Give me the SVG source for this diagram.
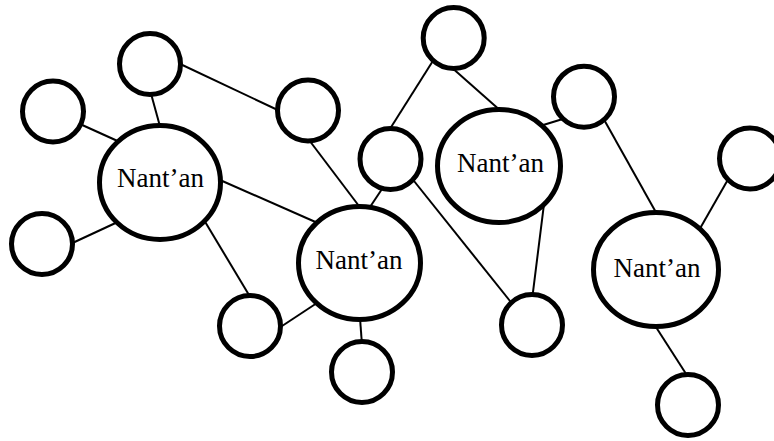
<svg xmlns="http://www.w3.org/2000/svg" width="774" height="441" viewBox="0 0 774 441">
  <style>
    .node { fill: #ffffff; stroke: #000000; stroke-width: 5; }
    .edge { stroke: #000000; stroke-width: 2; fill: none; }
    .label { font-family: "Liberation Serif", "Times New Roman", serif; font-size: 27px; fill: #000000; text-anchor: middle; }
  </style>
  <rect width="774" height="441" fill="#ffffff"/>

  <!-- links between circles; nodes are painted on top -->
  <g id="connectors">
    <line class="edge" x1="80" y1="124" x2="122" y2="143"/>
    <line class="edge" x1="150" y1="90" x2="161" y2="130"/>
    <line class="edge" x1="176" y1="62" x2="282" y2="112"/>
    <line class="edge" x1="306" y1="136" x2="362" y2="210"/>
    <line class="edge" x1="220" y1="180" x2="320" y2="224"/>
    <line class="edge" x1="66" y1="246" x2="122" y2="220"/>
    <line class="edge" x1="204" y1="220" x2="252" y2="300"/>
    <line class="edge" x1="276" y1="330" x2="320" y2="301"/>
    <line class="edge" x1="360" y1="318" x2="362" y2="345"/>
    <line class="edge" x1="384" y1="186" x2="368" y2="210"/>
    <line class="edge" x1="388" y1="132" x2="436" y2="56"/>
    <line class="edge" x1="450" y1="66" x2="502" y2="112"/>
    <line class="edge" x1="540" y1="126" x2="566" y2="118"/>
    <line class="edge" x1="410" y1="176" x2="514" y2="306"/>
    <line class="edge" x1="544" y1="204" x2="532" y2="300"/>
    <line class="edge" x1="602" y1="116" x2="658" y2="216"/>
    <line class="edge" x1="730" y1="176" x2="698" y2="232"/>
    <line class="edge" x1="654" y1="324" x2="690" y2="380"/>
  </g>

  <!-- hub nodes -->
  <g id="hub-1">
    <ellipse class="node" cx="160" cy="182.5" rx="60.5" ry="57"/>
    <text class="label" x="160.5" y="187">Nant’an</text>
  </g>
  <g id="hub-2">
    <ellipse class="node" cx="359.5" cy="263" rx="61" ry="56.5"/>
    <text class="label" x="359" y="269">Nant’an</text>
  </g>
  <g id="hub-3">
    <ellipse class="node" cx="499" cy="166" rx="61.5" ry="56.5"/>
    <text class="label" x="500.5" y="172">Nant’an</text>
  </g>
  <g id="hub-4">
    <ellipse class="node" cx="656" cy="269.5" rx="62.5" ry="57"/>
    <text class="label" x="657" y="277">Nant’an</text>
  </g>

  <!-- satellite nodes -->
  <g id="node-1"><circle class="node" cx="53" cy="111.5" r="30.5"/></g>
  <g id="node-2"><circle class="node" cx="150" cy="64" r="30.5"/></g>
  <g id="node-3"><circle class="node" cx="308" cy="110.5" r="30.5"/></g>
  <g id="node-4"><circle class="node" cx="42" cy="244" r="30.5"/></g>
  <g id="node-5"><circle class="node" cx="250" cy="326" r="30.5"/></g>
  <g id="node-6"><circle class="node" cx="362" cy="372" r="30.5"/></g>
  <g id="node-7"><circle class="node" cx="390.5" cy="159" r="30.5"/></g>
  <g id="node-8"><circle class="node" cx="453.7" cy="38" r="30.5"/></g>
  <g id="node-9"><circle class="node" cx="584" cy="96.7" r="30.5"/></g>
  <g id="node-10"><circle class="node" cx="532" cy="325" r="30.5"/></g>
  <g id="node-11"><circle class="node" cx="750" cy="158.5" r="30.5"/></g>
  <g id="node-12"><circle class="node" cx="688" cy="405" r="30.5"/></g>
</svg>
